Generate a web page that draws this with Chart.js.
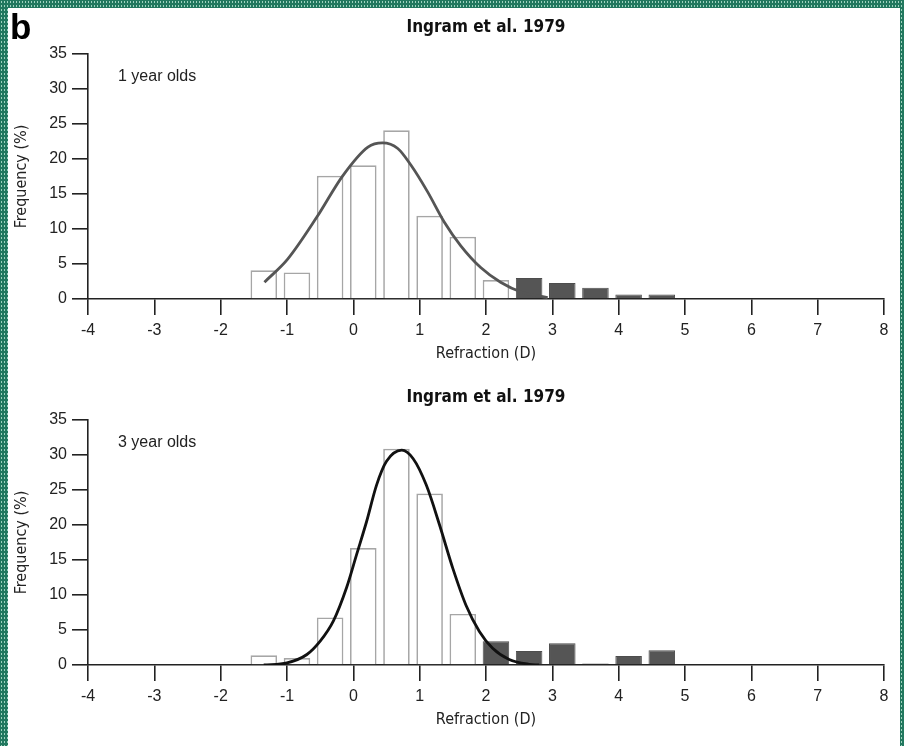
<!DOCTYPE html>
<html>
<head>
<meta charset="utf-8">
<script src="https://cdn.jsdelivr.net/npm/chart.js@4.4.1/dist/chart.umd.min.js"></script>
<style>
    html, body { margin: 0; padding: 0; background: #fff; }
    #frame {
        position: relative;
        width: 904px;
        height: 746px;
        overflow: hidden;
        background-color: #22785f;
        background-image: radial-gradient(circle, #9fd2bf 0.6px, transparent 1px);
        background-size: 3px 4px;
    }
    #paper { position: absolute; left: 8px; top: 8px; width: 892px; height: 738px; background: #fff; }
    canvas { position: absolute; left: 0; }
    #chart-top { top: 0; }
    #chart-bottom { top: 366px; }
</style>
</head>
<body>
<div id="frame">
    <div id="paper"></div>
    <canvas id="chart-top" width="904" height="380" style="width:904px;height:380px"></canvas>
    <canvas id="chart-bottom" width="904" height="380" style="width:904px;height:380px"></canvas>
</div>

<script>
// ============================================
// DATA
// ============================================

// x axis (Refraction, D) and y axis (Frequency, %)
const xTicks = [-4, -3, -2, -1, 0, 1, 2, 3, 4, 5, 6, 7, 8];
const yTicks = [0, 5, 10, 15, 20, 25, 30, 35];

// 1 year olds: open bars, dark bars, fitted curve
const oneOpenX = [-1.35, -0.85, -0.35, 0.15, 0.65, 1.15, 1.65, 2.15];
const oneOpenY = [4.1, 3.8, 17.6, 19.1, 24.1, 11.9, 8.9, 2.7];
const oneDarkX = [2.65, 3.15, 3.65, 4.15, 4.65];
const oneDarkY = [3.0, 2.3, 1.6, 0.65, 0.65];
const oneCurveX = [-1.34, -0.99, -0.55, -0.16, 0.22, 0.44, 0.67, 0.87, 1.12, 1.37, 1.62, 1.92, 2.22, 2.53, 2.93];
const oneCurveY = [2.4, 5.7, 11.7, 17.6, 21.7, 22.3, 21.5, 19.1, 15.3, 11.0, 7.6, 4.5, 2.4, 1.0, 0.2];

// 3 year olds
const threeOpenX = [-1.35, -0.85, -0.35, 0.15, 0.65, 1.15, 1.65];
const threeOpenY = [1.4, 1.0, 6.8, 16.7, 30.9, 24.5, 7.3];
const threeDarkX = [2.15, 2.65, 3.15, 3.65, 4.15, 4.65];
const threeDarkY = [3.4, 2.0, 3.1, 0.2, 1.3, 2.1];
const threeCurveX = [-1.35, -1.0, -0.7, -0.5, -0.3, -0.1, 0.05, 0.2, 0.35, 0.5, 0.73, 0.9, 1.1, 1.3, 1.5, 1.7, 1.9, 2.1, 2.35, 2.65, 2.8];
const threeCurveY = [0, 0.3, 1.5, 3.4, 6.3, 11.1, 15.8, 20.5, 25.7, 29.1, 30.7, 29.5, 25.7, 20.0, 13.8, 8.5, 4.8, 2.4, 0.8, 0.1, 0];

const panelTitle = 'Ingram et al. 1979';
const xTitle = 'Refraction (D)';
const yTitle = 'Frequency (%)';


// ============================================
// HELPERS
// ============================================

const narrow = '"Liberation Sans Narrow", "DejaVu Sans Condensed", "Arial Narrow", sans-serif';
const plain = '"Liberation Sans", Arial, sans-serif';

Chart.defaults.font.family = plain;
Chart.defaults.color = '#222';

function toPoints(xs, ys) {
    return xs.map(function (x, i) {
        return { x: x, y: ys[i] };
    });
}

// draws the small note inside the plot ("1 year olds") and the panel letter
function notePlugin(note, letter) {
    return {
        id: 'note',
        afterDraw: function (chart) {
            const ctx = chart.ctx;
            const area = chart.chartArea;
            ctx.save();
            ctx.fillStyle = '#222';
            ctx.textBaseline = 'middle';
            ctx.font = '16px ' + plain;
            ctx.fillText(note, area.left + 30, area.top + 23);
            if (letter) {
                ctx.fillStyle = '#000';
                ctx.font = 'bold 35px ' + plain;
                ctx.fillText(letter, 10, 29);
            }
            ctx.restore();
        }
    };
}

function makeHistogram(canvasId, openX, openY, darkX, darkY, curveX, curveY, curveColor, note, letter, titleTop) {
    return new Chart(document.getElementById(canvasId), {
        type: 'bar',
        data: {
            datasets: [
                {
                    type: 'line',
                    data: toPoints(curveX, curveY),
                    borderColor: curveColor,
                    borderWidth: 2.8,
                    pointRadius: 0,
                    cubicInterpolationMode: 'monotone',
                    fill: false,
                    order: 0
                },
                {
                    data: toPoints(openX, openY),
                    backgroundColor: '#ffffff',
                    borderColor: '#a6a6a6',
                    borderWidth: 1.7,
                    grouped: false,
                    categoryPercentage: 1,
                    barPercentage: 0.8,
                    order: 1
                },
                {
                    data: toPoints(darkX, darkY),
                    backgroundColor: '#555555',
                    borderColor: '#4d4d4d',
                    borderWidth: 1,
                    grouped: false,
                    categoryPercentage: 1,
                    barPercentage: 0.8,
                    order: 1
                }
            ]
        },
        options: {
            responsive: false,
            animation: false,
            layout: { padding: { left: 8, right: 20, top: 0, bottom: 0 } },
            scales: {
                x: {
                    type: 'linear',
                    offset: false,
                    min: xTicks[0],
                    max: xTicks[xTicks.length - 1],
                    afterBuildTicks: function (scale) {
                        scale.ticks = xTicks.map(function (v) { return { value: v }; });
                    },
                    afterFit: function (scale) { scale.height = 81; },
                    ticks: { font: { size: 16 }, color: '#222', padding: 6, maxRotation: 0, autoSkip: false },
                    grid: { drawOnChartArea: false, drawTicks: true, tickLength: 16, color: '#222', lineWidth: 1.6, offset: false },
                    border: { display: true, color: '#222', width: 1.6 },
                    title: { display: true, text: xTitle, font: { family: narrow, size: 16 }, color: '#222', padding: { top: 0, bottom: 17 } }
                },
                y: {
                    min: yTicks[0],
                    max: yTicks[yTicks.length - 1],
                    afterBuildTicks: function (scale) {
                        scale.ticks = yTicks.map(function (v) { return { value: v }; });
                    },
                    afterFit: function (scale) { scale.width = 80; },
                    ticks: { font: { size: 16 }, color: '#222', padding: 5 },
                    grid: { drawOnChartArea: false, drawTicks: true, tickLength: 16, color: '#222', lineWidth: 1.6 },
                    border: { display: true, color: '#222', width: 1.6 },
                    title: { display: true, text: yTitle, font: { family: narrow, size: 16 }, color: '#222', padding: { top: 4, bottom: 0 } }
                }
            },
            plugins: {
                legend: { display: false },
                tooltip: { enabled: false },
                title: {
                    display: true,
                    fullSize: false,
                    text: panelTitle,
                    color: '#111',
                    font: { family: narrow, size: 17, weight: 'bold' },
                    padding: { top: titleTop, bottom: 54 - titleTop - 20.4 }
                }
            }
        },
        plugins: [notePlugin(note, letter)]
    });
}


// ============================================
// DRAW BOTH PANELS
// ============================================

makeHistogram('chart-top', oneOpenX, oneOpenY, oneDarkX, oneDarkY, oneCurveX, oneCurveY, '#555555', '1 year olds', 'b', 17);
makeHistogram('chart-bottom', threeOpenX, threeOpenY, threeDarkX, threeDarkY, threeCurveX, threeCurveY, '#111111', '3 year olds', null, 21);
</script>
</body>
</html>
